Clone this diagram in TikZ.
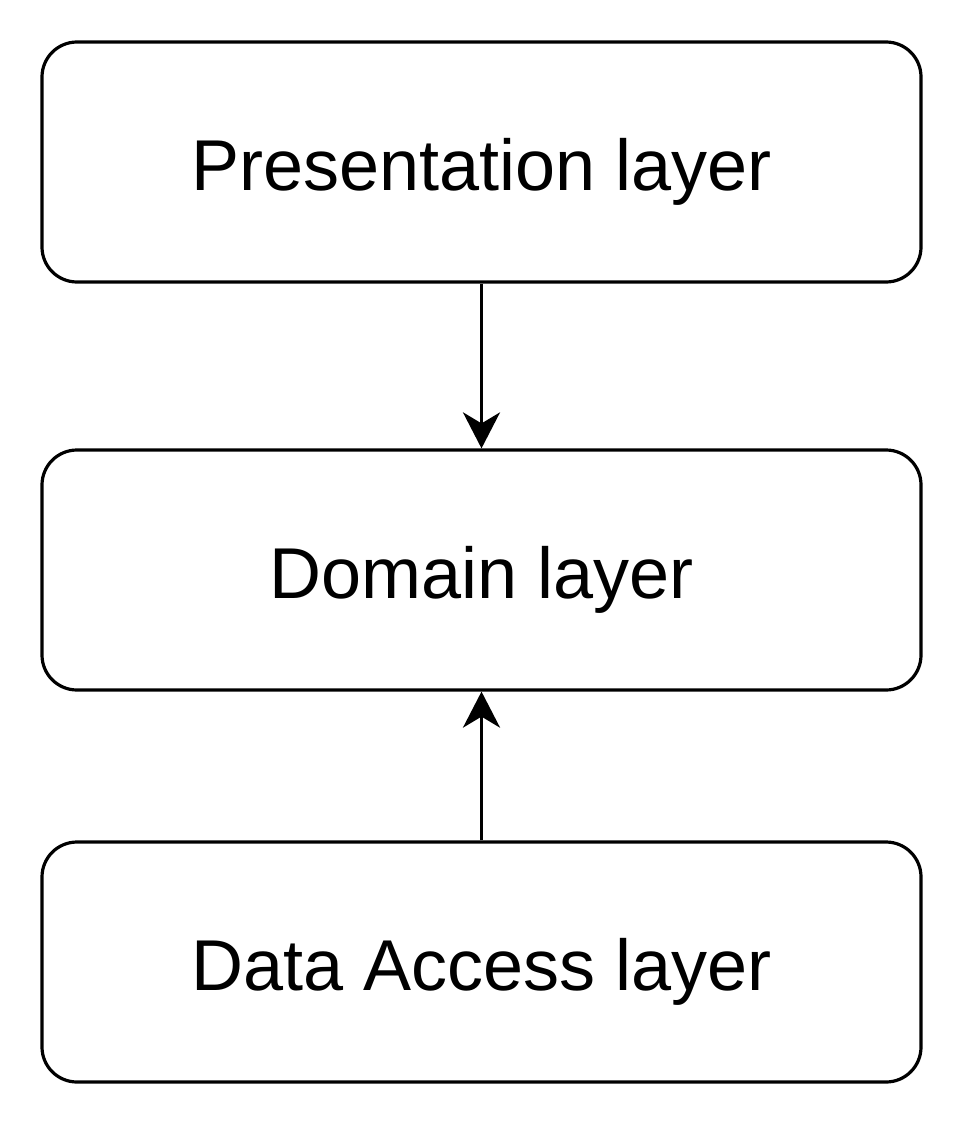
\documentclass[tikz,border=0pt]{standalone}
\usepackage{fontspec}
\setmainfont{Liberation Sans}
\usetikzlibrary{arrows.meta}
\begin{document}
\begin{tikzpicture}[x=1pt,y=-1pt,
  layerbox/.style={draw, line width=3.2pt, rounded corners=35pt, minimum width=879pt, minimum height=240pt, inner sep=0pt, text height=56pt, text depth=0pt, font=\fontsize{72}{86}\selectfont},
  conn/.style={line width=3.4pt, -{Stealth[length=36pt,width=37pt,inset=11pt]}}]
\useasboundingbox (0,0) rectangle (964,1124);
\node[layerbox] (pres) at (481.5,162) {Presentation layer};
\node[layerbox] (dom) at (481.5,570) {Domain layer};
\node[layerbox] (data) at (481.5,962) {Data Access layer};
\draw[conn] (pres.south) -- (dom.north);
\draw[conn] (data.north) -- (dom.south);
\end{tikzpicture}
\end{document}
